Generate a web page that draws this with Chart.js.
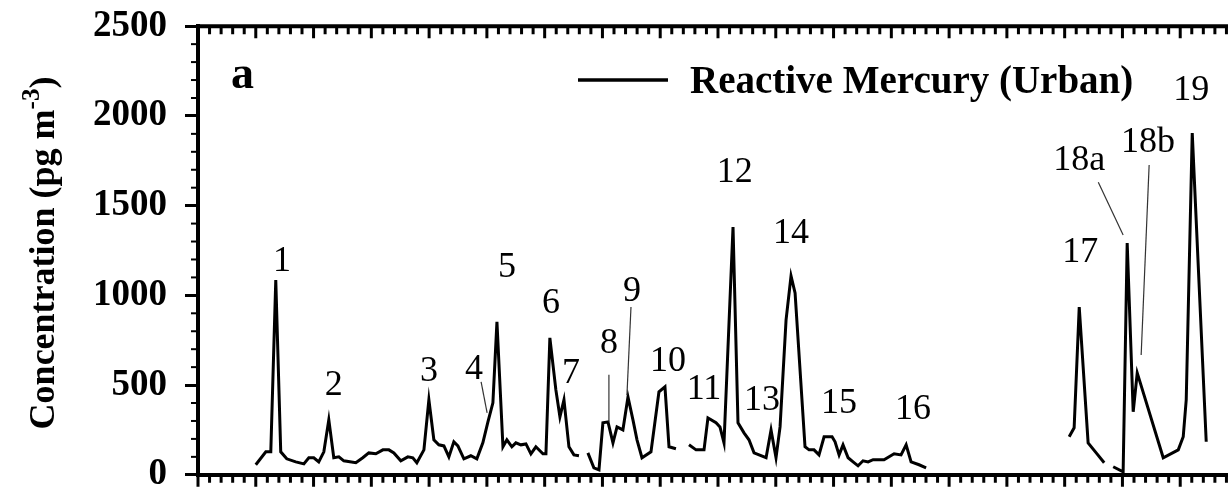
<!DOCTYPE html>
<html>
<head>
<meta charset="utf-8">
<script src="https://cdn.jsdelivr.net/npm/chart.js@4.4.0/dist/chart.umd.min.js"></script>
<style>
  html, body { margin: 0; padding: 0; background: #fff; overflow: hidden; }
  /* canvas is larger than the window: the right frame and x labels fall outside, as in the source figure */
  #wrap { position: absolute; left: 0; top: -14px; width: 1250px; height: 529px; }
</style>
</head>
<body>
<div id="wrap"><canvas id="chart"></canvas></div>
<script>
// sample times (days) and concentrations, null = no data
const times = [
  5.00, 5.87, 6.30, 6.73, 7.16, 7.68, 8.46, 9.16, 9.59, 10.02, 10.45, 10.89, 11.32, 11.75, 12.19, 12.62,
  13.66, 14.26, 14.78, 15.39, 16.00, 16.52, 16.95, 17.55, 18.16, 18.59, 18.94, 19.55, 19.98, 20.41, 20.84,
  21.28, 21.71, 22.14, 22.49, 23.01, 23.61, 24.13, 24.65, 25.09, 25.52, 25.87, 26.39, 26.73, 27.16, 27.51,
  27.94, 28.38, 28.81, 29.24, 29.85, 30.11, 30.45, 30.97, 31.32, 31.67, 32.10, 32.53, 32.97,
  33.35,
  33.74, 34.26, 34.70, 35.04, 35.48, 35.91, 36.26, 36.77, 37.21, 37.64, 37.99, 38.42, 39.20, 39.89, 40.41,
  40.76, 41.36,
  42.00,
  42.49, 43.10, 43.79, 44.13, 44.83, 45.17, 45.52, 46.30, 46.73, 47.25, 47.68, 48.12, 49.16, 49.59, 50.02,
  50.37, 50.89, 51.32, 51.67, 52.53, 52.88, 53.31, 53.74, 54.18, 54.87, 55.13, 55.48, 55.82, 56.26, 56.69,
  57.12, 57.55, 57.99, 58.42, 59.37, 60.24, 60.84, 61.28, 61.71, 62.40, 63.01,
  70.00,
  75.39, 75.82, 76.26, 77.03, 77.73, 78.42,
  78.80,
  79.20, 80.06, 80.41, 80.93, 81.28, 83.53, 84.83, 85.26, 85.52, 86.04, 87.25
];
const values = [
  56, 128, 128, 1086, 128, 89, 72, 61, 95, 95, 72, 128, 306, 95, 100, 78,
  67, 95, 122, 117, 139, 139, 122, 78, 100, 95, 67, 139, 418, 195, 167,
  161, 100, 184, 161, 89, 106, 89, 178, 295, 401, 852, 156, 195, 156, 178,
  167, 172, 117, 156, 117, 117, 763, 473, 323, 418, 156, 111, 106,
  null,
  122, 39, 28, 290, 295, 178, 267, 250, 434, 306, 195, 95, 128, 462, 490,
  156, 145,
  null,
  167, 139, 139, 317, 290, 267, 178, 1381, 290, 234, 195, 122, 95, 250, 95,
  267, 863, 1108, 1013, 156, 139, 139, 111, 212, 212, 184, 111, 167, 95, 72,
  50, 78, 72, 84, 84, 117, 111, 167, 72, 56, 39,
  null,
  212, 262, 935, 178, 122, 67,
  null,
  45, 17, 1292, 351, 568, 95, 139, 212, 418, 1904, 184
];

const yTicks = [0, 500, 1000, 1500, 2000, 2500];

// event numbers written above the peaks
const peakNames = ['1', '2', '3', '4', '5', '6', '7', '8', '9', '10', '11', '12', '13', '14', '15', '16', '17', '18a', '18b', '19'];
const peakX = [7.27, 11.75, 19.98, 23.88, 26.73, 30.54, 32.27, 35.56, 37.56, 40.67, 43.79, 46.46, 48.81, 51.32, 55.47, 61.88, 76.34, 76.26, 82.22, 85.96];
const peakY = [1186, 496, 573, 585, 1153, 952, 562, 729, 1019, 629, 473, 1682, 412, 1347, 395, 362, 1236, 1754, 1849, 2144];

// thin pointer lines from some labels to their peaks
const leaderX1 = [24.50, 35.56, 37.47, 77.91, 82.31];
const leaderY1 = [518, 557, 935, 1631, 1726];
const leaderX2 = [25.02, 35.56, 37.12, 80.06, 81.62];
const leaderY2 = [345, 295, 445, 1336, 668];

const serif = '"Liberation Serif", "Times New Roman", serif';
const SHIFT = 14; // canvas is moved up by this much

const points = times.map((t, i) => ({ x: t, y: values[i] }));

const extras = {
  id: 'extras',
  afterDraw(chart) {
    const ctx = chart.ctx;
    const xs = chart.scales.x;
    const ys = chart.scales.y;
    const area = chart.chartArea;
    ctx.save();

    // minor y ticks
    ctx.strokeStyle = '#000';
    ctx.lineWidth = 2;
    for (let v = 100; v < 2500; v += 100) {
      if (v % 500 === 0) continue;
      const py = ys.getPixelForValue(v);
      ctx.beginPath();
      ctx.moveTo(area.left - 7, py);
      ctx.lineTo(area.left, py);
      ctx.stroke();
    }

    // top frame line
    ctx.lineWidth = 4;
    ctx.beginPath();
    ctx.moveTo(area.left - 2, area.top);
    ctx.lineTo(area.right, area.top);
    ctx.stroke();

    // x ticks, top (inward) and bottom (outward)
    ctx.lineWidth = 3;
    for (let d = 0; d <= 90; d++) {
      const px = xs.getPixelForValue(d);
      const len = d % 5 === 0 ? 12 : 8;
      ctx.beginPath();
      ctx.moveTo(px, area.top);
      ctx.lineTo(px, area.top + len);
      ctx.moveTo(px, area.bottom);
      ctx.lineTo(px, area.bottom + len);
      ctx.stroke();
    }

    // leader lines
    ctx.strokeStyle = '#333';
    ctx.lineWidth = 1.2;
    for (let i = 0; i < leaderX1.length; i++) {
      ctx.beginPath();
      ctx.moveTo(xs.getPixelForValue(leaderX1[i]), ys.getPixelForValue(leaderY1[i]));
      ctx.lineTo(xs.getPixelForValue(leaderX2[i]), ys.getPixelForValue(leaderY2[i]));
      ctx.stroke();
    }

    // peak labels
    ctx.fillStyle = '#000';
    ctx.font = '36px ' + serif;
    ctx.textAlign = 'center';
    ctx.textBaseline = 'middle';
    peakNames.forEach((name, i) => {
      ctx.fillText(name, xs.getPixelForValue(peakX[i]), ys.getPixelForValue(peakY[i]));
    });

    ctx.translate(0, SHIFT);

    // panel letter
    ctx.font = 'bold 46px ' + serif;
    ctx.textAlign = 'left';
    ctx.textBaseline = 'alphabetic';
    ctx.fillText('a', 231, 88);

    // legend
    ctx.strokeStyle = '#000';
    ctx.lineWidth = 3.5;
    ctx.beginPath();
    ctx.moveTo(578, 80);
    ctx.lineTo(668, 80);
    ctx.stroke();
    ctx.font = 'bold 39px ' + serif;
    ctx.fillText(chart.data.datasets[0].label, 690, 93);

    // y axis title with superscript
    ctx.translate(54, 253);
    ctx.rotate(-Math.PI / 2);
    const main = 'Concentration (pg m';
    const sup = '-3';
    const tail = ')';
    ctx.font = 'bold 36px ' + serif;
    const w1 = ctx.measureText(main).width;
    const w3 = ctx.measureText(tail).width;
    ctx.font = 'bold 25px ' + serif;
    const w2 = ctx.measureText(sup).width;
    const x0 = -(w1 + w2 + w3) / 2;
    ctx.font = 'bold 36px ' + serif;
    ctx.fillText(main, x0, 0);
    ctx.font = 'bold 25px ' + serif;
    ctx.fillText(sup, x0 + w1, -15);
    ctx.font = 'bold 36px ' + serif;
    ctx.fillText(tail, x0 + w1 + w2, 0);

    ctx.restore();
  }
};

new Chart(document.getElementById('chart'), {
  type: 'line',
  data: {
    datasets: [{
      label: 'Reactive Mercury (Urban)',
      data: points,
      borderColor: '#000',
      borderWidth: 3,
      pointRadius: 0,
      tension: 0,
      spanGaps: false,
      fill: false
    }]
  },
  options: {
    responsive: true,
    maintainAspectRatio: false,
    animation: false,
    layout: { padding: { left: 0, top: 0, right: 12, bottom: 0 } },
    plugins: {
      legend: { display: false },
      tooltip: { enabled: false }
    },
    scales: {
      x: {
        type: 'linear',
        min: 0,
        max: 90,
        ticks: { display: false },
        grid: { display: false },
        border: { display: true, color: '#000', width: 4 }
      },
      y: {
        min: 0,
        max: 2500,
        afterFit(scale) { scale.width = 198; },
        afterBuildTicks(scale) { scale.ticks = yTicks.map(v => ({ value: v })); },
        ticks: {
          color: '#000',
          padding: 18,
          callback: (v) => String(v),
          font: { family: serif, size: 37, weight: 'bold' }
        },
        grid: {
          drawOnChartArea: false,
          drawTicks: true,
          tickLength: 13,
          tickWidth: 3,
          tickColor: '#000'
        },
        border: { display: true, color: '#000', width: 4 }
      }
    }
  },
  plugins: [extras]
});
</script>
</body>
</html>
